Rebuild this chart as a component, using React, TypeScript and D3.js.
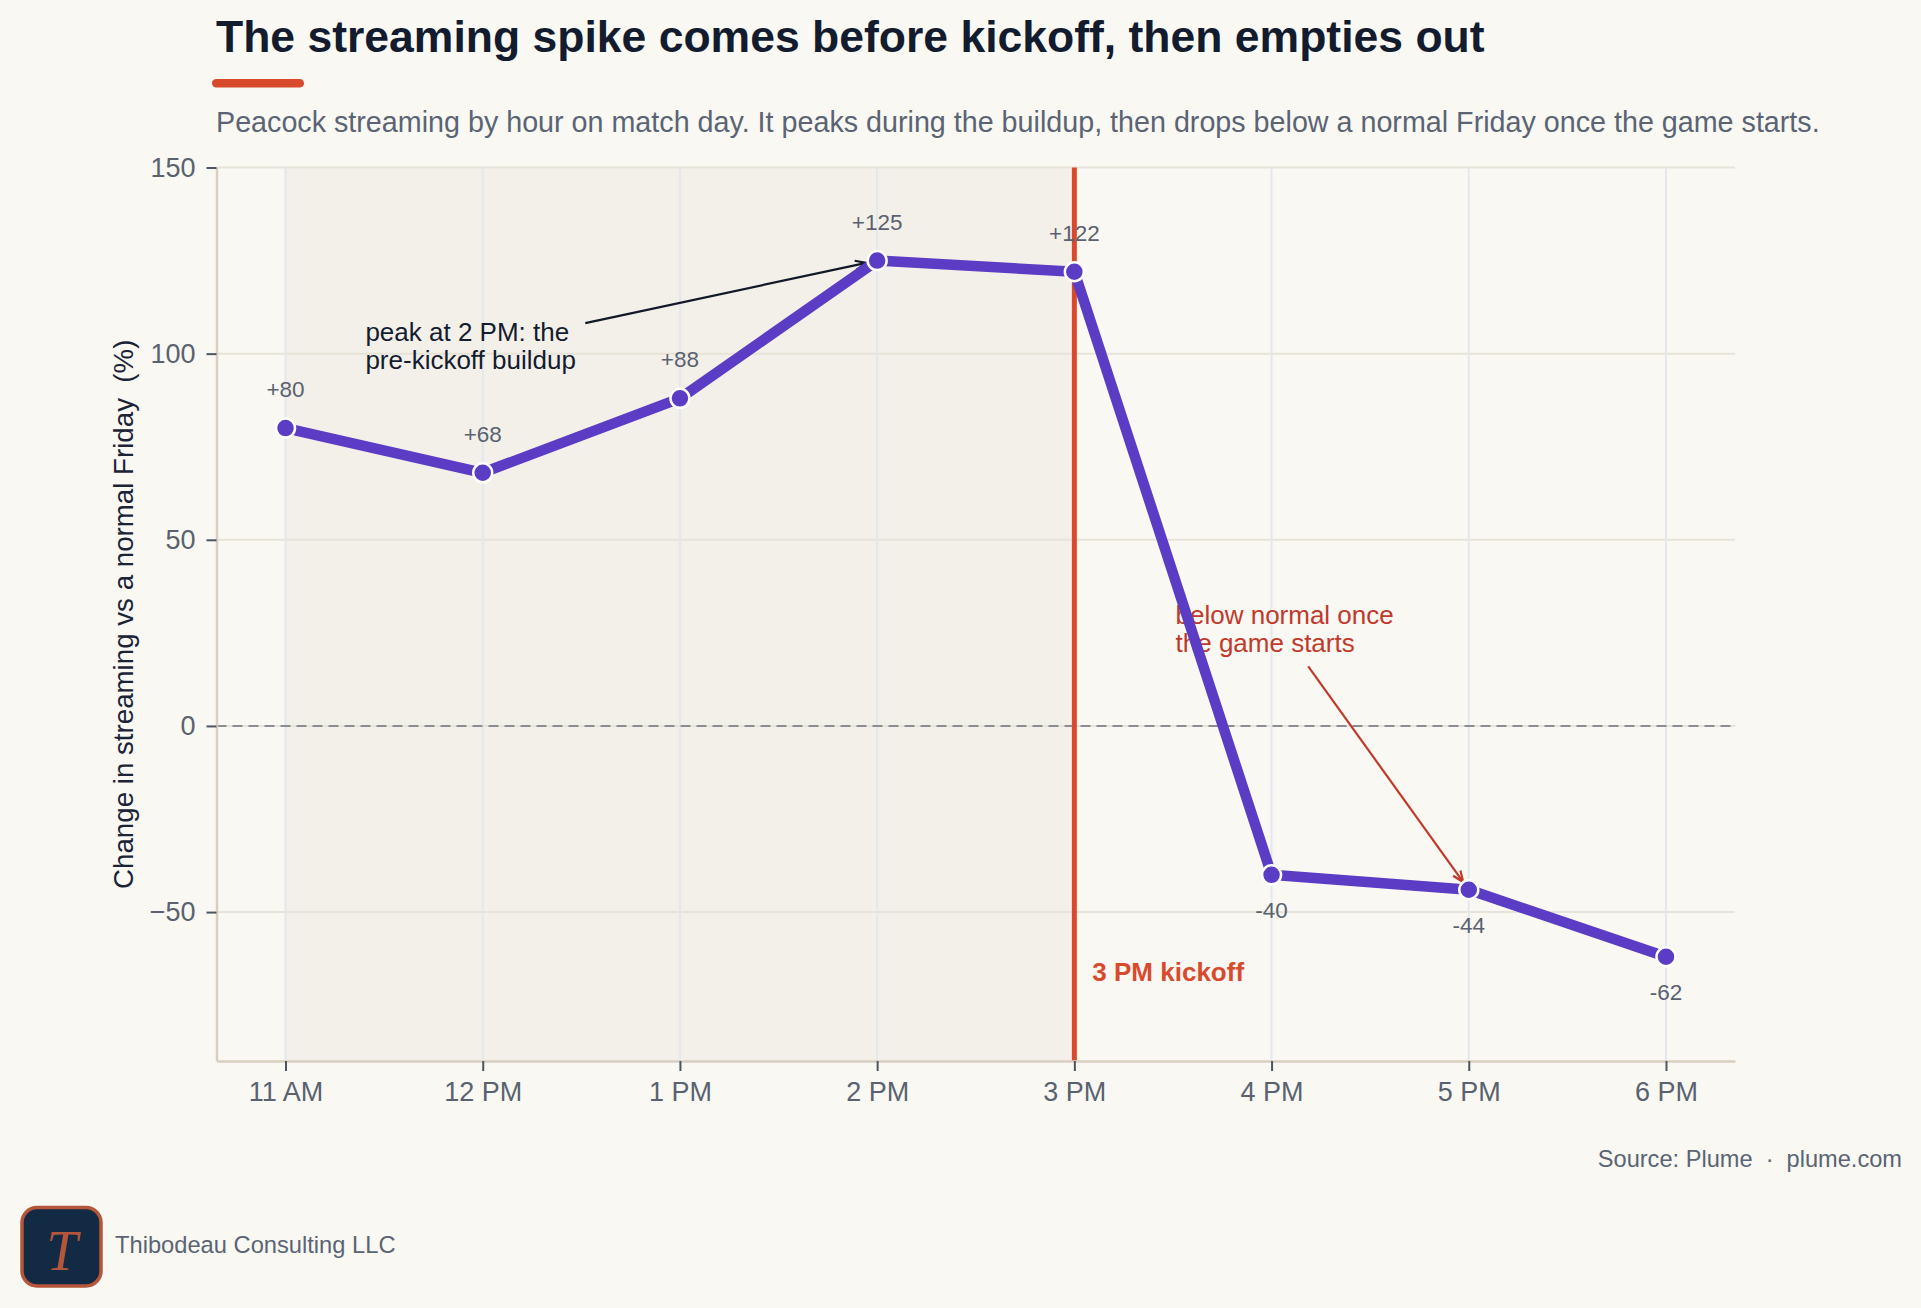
import { useEffect, useRef } from "react";
import * as d3 from "d3";

// values
const hours = ["11 AM", "12 PM", "1 PM", "2 PM", "3 PM", "4 PM", "5 PM", "6 PM"];
const changePct = [80, 68, 88, 125, 122, -40, -44, -62];
const yTicks = [-50, 0, 50, 100, 150];
const yDomain: [number, number] = [-90, 150];
const kickoffIndex = 4;

const title = "The streaming spike comes before kickoff, then empties out";
const subtitle =
  "Peacock streaming by hour on match day. It peaks during the buildup, then drops below a normal Friday once the game starts.";
const yLabel = "Change in streaming vs a normal Friday\u00a0\u00a0(%)";
const sourceText = "Source: Plume\u00a0\u00a0·\u00a0\u00a0plume.com";
const brandText = "Thibodeau Consulting LLC";

const peakNote = ["peak at 2 PM: the", "pre-kickoff buildup"];
const dropNote = ["below normal once", "the game starts"];

const W = 1921;
const H = 1308;
const FONT = "'Liberation Sans', Arial, Helvetica, sans-serif";

export default function App() {
  const svgRef = useRef<SVGSVGElement | null>(null);

  useEffect(() => {
    if (!svgRef.current) return;
    const svg = d3.select(svgRef.current);
    svg.selectAll("*").remove();

    const plot = { left: 216.5, right: 1735, top: 167.5, bottom: 1061 };

    const x = d3.scaleLinear().domain([-0.35, hours.length - 1 + 0.35]).range([plot.left, plot.right]);
    const y = d3.scaleLinear().domain(yDomain).range([plot.bottom, plot.top]);

    svg.attr("font-family", FONT);

    svg.append("rect").attr("width", W).attr("height", H).attr("fill", "#f9f8f3");

    // header
    svg
      .append("text")
      .attr("x", 216)
      .attr("y", 52)
      .attr("font-size", 44.5)
      .attr("font-weight", 700)
      .attr("fill", "#131b2e")
      .text(title);

    svg
      .append("rect")
      .attr("x", 212)
      .attr("y", 79)
      .attr("width", 92)
      .attr("height", 8.5)
      .attr("rx", 4.25)
      .attr("fill", "#d94a2c");

    svg
      .append("text")
      .attr("x", 216)
      .attr("y", 132)
      .attr("font-size", 28.7)
      .attr("fill", "#5a6474")
      .text(subtitle);

    // pre-kickoff shading
    svg
      .append("rect")
      .attr("x", x(0))
      .attr("y", plot.top)
      .attr("width", x(kickoffIndex) - x(0))
      .attr("height", plot.bottom - plot.top)
      .attr("fill", "#f3f0e9");

    // grid
    svg
      .append("g")
      .selectAll("line")
      .data(yTicks)
      .join("line")
      .attr("x1", plot.left)
      .attr("x2", plot.right)
      .attr("y1", (d) => y(d))
      .attr("y2", (d) => y(d))
      .attr("stroke", "#e8e3d9")
      .attr("stroke-width", 2);

    svg
      .append("g")
      .selectAll("line")
      .data(d3.range(hours.length))
      .join("line")
      .attr("x1", (d) => x(d))
      .attr("x2", (d) => x(d))
      .attr("y1", plot.top)
      .attr("y2", plot.bottom)
      .attr("stroke", "#e4e7ee")
      .attr("stroke-width", 2);

    // zero baseline
    svg
      .append("line")
      .attr("x1", plot.left)
      .attr("x2", plot.right)
      .attr("y1", y(0))
      .attr("y2", y(0))
      .attr("stroke", "#6b7280")
      .attr("stroke-width", 1.6)
      .attr("stroke-dasharray", "10 6");

    // kickoff marker
    svg
      .append("line")
      .attr("x1", x(kickoffIndex))
      .attr("x2", x(kickoffIndex))
      .attr("y1", plot.top)
      .attr("y2", plot.bottom)
      .attr("stroke", "#d94a2c")
      .attr("stroke-width", 5);

    svg
      .append("text")
      .attr("x", x(kickoffIndex) + 18)
      .attr("y", y(-68.5))
      .attr("font-size", 26)
      .attr("font-weight", 700)
      .attr("fill", "#d94a2c")
      .text("3 PM kickoff");

    // axes
    const xAxis = svg
      .append("g")
      .attr("transform", `translate(0,${plot.bottom})`)
      .call(
        d3
          .axisBottom(x)
          .tickValues(d3.range(hours.length))
          .tickFormat((d) => hours[d as number])
          .tickSize(10)
          .tickSizeOuter(0)
          .tickPadding(11)
      );

    const yAxis = svg
      .append("g")
      .attr("transform", `translate(${plot.left},0)`)
      .call(d3.axisLeft(y).tickValues(yTicks).tickSize(10).tickSizeOuter(0).tickPadding(11));

    [xAxis, yAxis].forEach((g) => {
      g.select(".domain").attr("stroke", "#d8cfc0").attr("stroke-width", 2.5);
      g.selectAll(".tick line").attr("stroke", "#4b5563").attr("stroke-width", 2);
      g.selectAll(".tick text")
        .attr("fill", "#5a6270")
        .attr("font-size", 27)
        .attr("font-family", FONT);
    });

    svg
      .append("text")
      .attr("transform", `translate(123,${(plot.top + plot.bottom) / 2}) rotate(-90)`)
      .attr("text-anchor", "middle")
      .attr("dy", "0.35em")
      .attr("font-size", 27.7)
      .attr("fill", "#1b2437")
      .text(yLabel);

    // arrow heads
    const defs = svg.append("defs");
    const addHead = (id: string, color: string) =>
      defs
        .append("marker")
        .attr("id", id)
        .attr("markerUnits", "userSpaceOnUse")
        .attr("viewBox", "-12 -6 14 12")
        .attr("refX", 0)
        .attr("refY", 0)
        .attr("markerWidth", 14)
        .attr("markerHeight", 12)
        .attr("orient", "auto")
        .append("path")
        .attr("d", "M-11,-4.5 L0,0 L-11,4.5")
        .attr("fill", "none")
        .attr("stroke", color)
        .attr("stroke-width", 2.2);
    addHead("head-dark", "#111827");
    addHead("head-red", "#c0392b");

    const arrow = (
      from: [number, number],
      to: [number, number],
      gap: number,
      color: string,
      head: string
    ) => {
      const x1 = x(from[0]);
      const y1 = y(from[1]);
      const tx = x(to[0]);
      const ty = y(to[1]);
      const len = Math.hypot(tx - x1, ty - y1);
      const x2 = tx - ((tx - x1) / len) * gap;
      const y2 = ty - ((ty - y1) / len) * gap;
      svg
        .append("line")
        .attr("x1", x1)
        .attr("y1", y1)
        .attr("x2", x2)
        .attr("y2", y2)
        .attr("stroke", color)
        .attr("stroke-width", 2.2)
        .attr("marker-end", `url(#${head})`);
    };

    const note = (lines: string[], at: [number, number], color: string) => {
      const t = svg
        .append("text")
        .attr("x", x(at[0]))
        .attr("y", y(at[1]))
        .attr("font-size", 26)
        .attr("fill", color);
      lines.forEach((line, i) => {
        t.append("tspan")
          .attr("x", x(at[0]))
          .attr("dy", i === 0 ? 0 : 28.5)
          .text(line);
      });
    };

    note(peakNote, [0.405, 103.4], "#141c2f");
    arrow([1.52, 108.2], [3, changePct[3]], 11, "#111827", "head-dark");

    note(dropNote, [4.513, 27.5], "#c0392b");
    arrow([5.186, 16], [6, changePct[6]], 9.5, "#c0392b", "head-red");

    // series
    const line = d3
      .line<number>()
      .x((_, i) => x(i))
      .y((d) => y(d));

    svg
      .append("path")
      .datum(changePct)
      .attr("d", line)
      .attr("fill", "none")
      .attr("stroke", "#5b3cc4")
      .attr("stroke-width", 10.5)
      .attr("stroke-linejoin", "round");

    svg
      .append("g")
      .selectAll("circle")
      .data(changePct)
      .join("circle")
      .attr("cx", (_, i) => x(i))
      .attr("cy", (d) => y(d))
      .attr("r", 9.5)
      .attr("fill", "#5b3cc4")
      .attr("stroke", "#ffffff")
      .attr("stroke-width", 2.5);

    svg
      .append("g")
      .selectAll("text")
      .data(changePct)
      .join("text")
      .attr("x", (_, i) => x(i))
      .attr("y", (d) => (d >= 0 ? y(d) - 31 : y(d) + 43))
      .attr("text-anchor", "middle")
      .attr("font-size", 22.5)
      .attr("fill", "#5a6270")
      .text((d) => (d >= 0 ? `+${d}` : `${d}`));

    // footer
    svg
      .append("text")
      .attr("x", 1902)
      .attr("y", 1167)
      .attr("text-anchor", "end")
      .attr("font-size", 23.6)
      .attr("fill", "#5a6474")
      .text(sourceText);

    svg
      .append("rect")
      .attr("x", 22)
      .attr("y", 1207.5)
      .attr("width", 79)
      .attr("height", 78.5)
      .attr("rx", 15)
      .attr("fill", "#132a45")
      .attr("stroke", "#b5553a")
      .attr("stroke-width", 3.5);

    svg
      .append("text")
      .attr("x", 62)
      .attr("y", 1270)
      .attr("text-anchor", "middle")
      .attr("font-family", "'Liberation Serif', 'DejaVu Serif', serif")
      .attr("font-style", "italic")
      .attr("font-size", 56)
      .attr("fill", "#b5553a")
      .text("T");

    svg
      .append("text")
      .attr("x", 115)
      .attr("y", 1253)
      .attr("font-size", 23.7)
      .attr("fill", "#5a6474")
      .text(brandText);
  }, []);

  return (
    <div style={{ position: "absolute", left: 0, top: 0 }}>
      <svg ref={svgRef} width={W} height={H} viewBox={`0 0 ${W} ${H}`} />
    </div>
  );
}
